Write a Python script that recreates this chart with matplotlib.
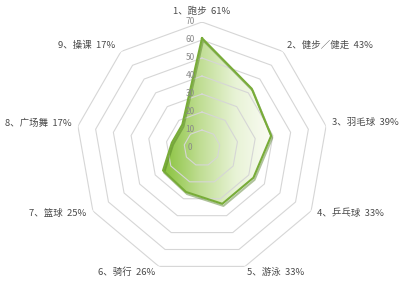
import numpy as np
import matplotlib
matplotlib.use("Agg")
import matplotlib.pyplot as plt
import matplotlib.patheffects as pe
from matplotlib.colors import LinearSegmentedColormap

plt.rcParams['font.family'] = ['Noto Sans CJK SC', 'DejaVu Sans']

categories = ["1、跑步", "2、健步／健走", "3、羽毛球", "4、乒乓球", "5、游泳",
              "6、骑行", "7、篮球", "8、广场舞", "9、操课"]
values = [61, 43, 39, 33, 33, 26, 25, 17, 17]
r_ticks = [0, 10, 20, 30, 40, 50, 60, 70]
r_max = 70

n = len(categories)
theta = np.arange(n) * 2 * np.pi / n
theta_closed = np.append(theta, theta[0])

W, H = 400, 287
fig = plt.figure(figsize=(W / 100, H / 100), dpi=100)
cx, cy, rad = 202, 148, 126
ax = fig.add_axes([(cx - rad) / W, (H - cy - rad) / H, 2 * rad / W, 2 * rad / H],
                  projection='polar')
ax.set_theta_zero_location('N')
ax.set_theta_direction(-1)
ax.set_ylim(0, r_max)
ax.set_frame_on(False)
ax.grid(False)
ax.set_xticks([])
ax.set_yticks([])
ax.patch.set_alpha(0)

# polygon grid
for r in r_ticks[1:]:
    ax.plot(theta_closed, [r] * (n + 1), color='#d6d6d6', lw=0.8, zorder=3)

# data fill (gradient clipped to polygon)
vals_closed = values + [values[0]]
poly = ax.fill(theta_closed, vals_closed, facecolor='none', edgecolor='none', zorder=2)[0]

bg = fig.add_axes([0, 0, 1, 1], zorder=-1)
bg.set_xlim(0, W)
bg.set_ylim(0, H)
bg.axis('off')
cmap = LinearSegmentedColormap.from_list('g', ['#88c23c', '#bfdd92', '#e8f3d6', '#fbfcf5'])
grad = np.linspace(0, 1, 256)[None, :]
im = bg.imshow(grad, cmap=cmap, extent=[163, 272, 0, H], aspect='auto', zorder=1)
im.set_clip_path(poly)
ax.set_zorder(1)

ax.plot(theta_closed, vals_closed, color='#78ac38', lw=1.5, zorder=4,
        path_effects=[pe.SimpleLineShadow(offset=(0.8, -1.5), shadow_color='#4f7a22', alpha=0.45),
                      pe.Normal()])

# radial tick labels
for r in r_ticks:
    ax.annotate(str(r), xy=(0, r), xytext=(-12, 0), textcoords='offset pixels',
                ha='center', va='center', fontsize=6, color='#8a8a8a', zorder=5)

# category labels
offsets = [(0, 0), (4, 6), (6, 4), (6, -2), (2, -6), (-4, -6), (-7, -2), (-6, 3), (-6, 6)]
for i, (cat, v) in enumerate(zip(categories, values)):
    label = f"{cat}  {v}%"
    if i == 0:
        ax.annotate(label, xy=(0, r_max), xytext=(0, 11), textcoords='offset pixels',
                    ha='center', va='center', fontsize=6.8, color='#4a4a4a')
        continue
    dx, dy = offsets[i]
    ha = 'left' if np.sin(theta[i]) > 0 else 'right'
    ax.annotate(label, xy=(theta[i], r_max), xytext=(dx, dy), textcoords='offset pixels',
                ha=ha, va='center', fontsize=6.8, color='#4a4a4a')

fig.savefig('out.png', dpi=100)
